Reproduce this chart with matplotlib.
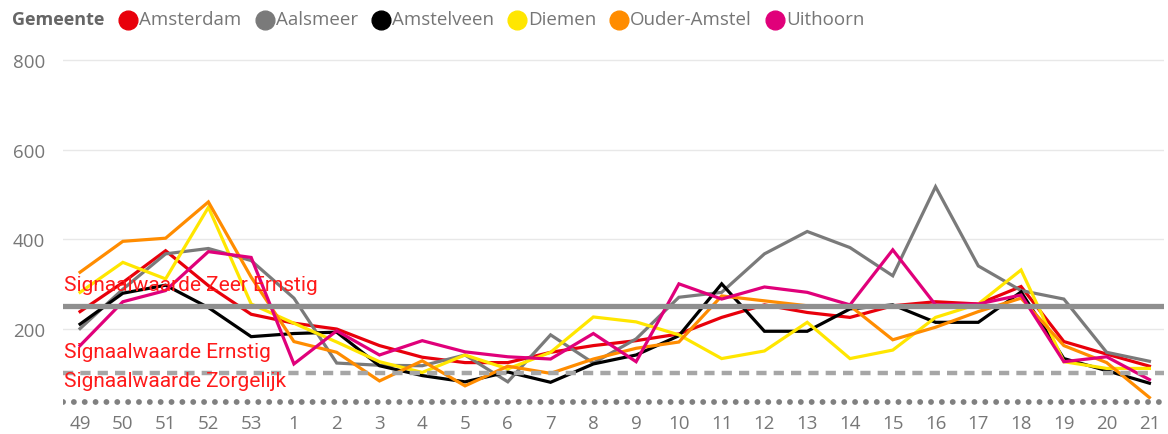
import matplotlib
matplotlib.use("Agg")
import matplotlib.pyplot as plt
from matplotlib.lines import Line2D

weeks = ['49', '50', '51', '52', '53'] + [str(i) for i in range(1, 22)]

amsterdam = [238, 303, 374, 296, 232, 212, 199, 162, 136, 124, 124, 147, 162,
             173, 188, 225, 253, 236, 225, 251, 260, 255, 294, 171, 143, 116]
aalsmeer = [200, 288, 367, 379, 352, 268, 123, 118, 117, 141, 81, 186, 123,
            177, 270, 281, 367, 417, 381, 318, 517, 340, 285, 266, 147, 127]
amstelveen = [210, 279, 297, 247, 182, 189, 192, 117, 95, 81, 103, 80, 121,
              141, 184, 300, 194, 194, 244, 253, 214, 214, 282, 133, 106, 78]
diemen = [281, 348, 311, 471, 255, 212, 170, 126, 102, 141, 110, 147, 226,
          215, 186, 133, 150, 214, 133, 152, 225, 255, 331, 126, 111, 111]
ouder_amstel = [326, 395, 402, 483, 315, 171, 147, 83, 128, 72, 116, 100, 132,
                156, 170, 273, 262, 251, 251, 175, 203, 238, 268, 162, 124, 46]
uithoorn = [162, 260, 285, 372, 359, 121, 195, 141, 173, 148, 137, 132, 189,
            126, 300, 266, 293, 281, 253, 376, 253, 255, 275, 126, 137, 86]

series = [
    ('Amsterdam', amsterdam, '#e8000b'),
    ('Aalsmeer', aalsmeer, '#7a7a7a'),
    ('Amstelveen', amstelveen, '#000000'),
    ('Diemen', diemen, '#ffe600'),
    ('Ouder-Amstel', ouder_amstel, '#ff8c00'),
    ('Uithoorn', uithoorn, '#e0007a'),
]

signal_names = ['Signaalwaarde Zeer Ernstig', 'Signaalwaarde Ernstig', 'Signaalwaarde Zorgelijk']
signal_values = [250, 100, 35]

fig = plt.figure(figsize=(11.68, 4.35), dpi=100)
ax = fig.add_axes([0.0539, 0.052, 0.943, 0.823])

x = list(range(len(weeks)))
for name, vals, col in series:
    ax.plot(x, vals, color=col, lw=2.3, zorder=3, solid_joinstyle='miter')

# signaalwaarden
ax.axhline(signal_values[0], color='#8f8f8f', lw=3.8, zorder=4)
ax.axhline(signal_values[1], color='#a6a6a6', lw=3.2, zorder=4, dashes=(2.3, 1.6))
ax.axhline(signal_values[2], color='#808080', lw=4.2, zorder=4,
           dashes=(0.01, 1.85), dash_capstyle='round')

for name, val in zip(signal_names, signal_values):
    ax.text(-0.38, val + 49, name, color='#ff1a1a', fontsize=15,
            family='Roboto', va='center', ha='left', zorder=5)

ax.set_xlim(-0.4, 25.35)
ax.set_ylim(15, 815)
ax.set_yticks([200, 400, 600, 800])
ax.set_xticks(x)
ax.set_xticklabels(weeks)
ax.grid(axis='y', color='#e8e8e8', lw=1)
ax.set_axisbelow(True)
for s in ax.spines.values():
    s.set_visible(False)
ax.tick_params(length=0, labelsize=13.5, labelcolor='#777777')
ax.tick_params(axis='y', pad=13)
ax.tick_params(axis='x', pad=2)
for lab in ax.get_xticklabels() + ax.get_yticklabels():
    lab.set_family('Open Sans')

# legend
fig.canvas.draw()
renderer = fig.canvas.get_renderer()
ly = 1 - 20 / 435
t = fig.text(12 / 1168, ly, 'Gemeente', fontsize=13, fontweight='bold',
             color='#666666', va='center', family='Open Sans')
bb = t.get_window_extent(renderer)
xpos = bb.x1 + 24
for name, vals, col in series:
    fig.add_artist(Line2D([xpos / 1168], [ly - 1 / 435], marker='o', markersize=13.5,
                          color=col, transform=fig.transFigure))
    tt = fig.text((xpos + 11) / 1168, ly, name, fontsize=13.5, color='#767676',
                  va='center', family='Open Sans')
    bb = tt.get_window_extent(renderer)
    xpos = bb.x1 + 23

fig.savefig('out.png', dpi=100)
